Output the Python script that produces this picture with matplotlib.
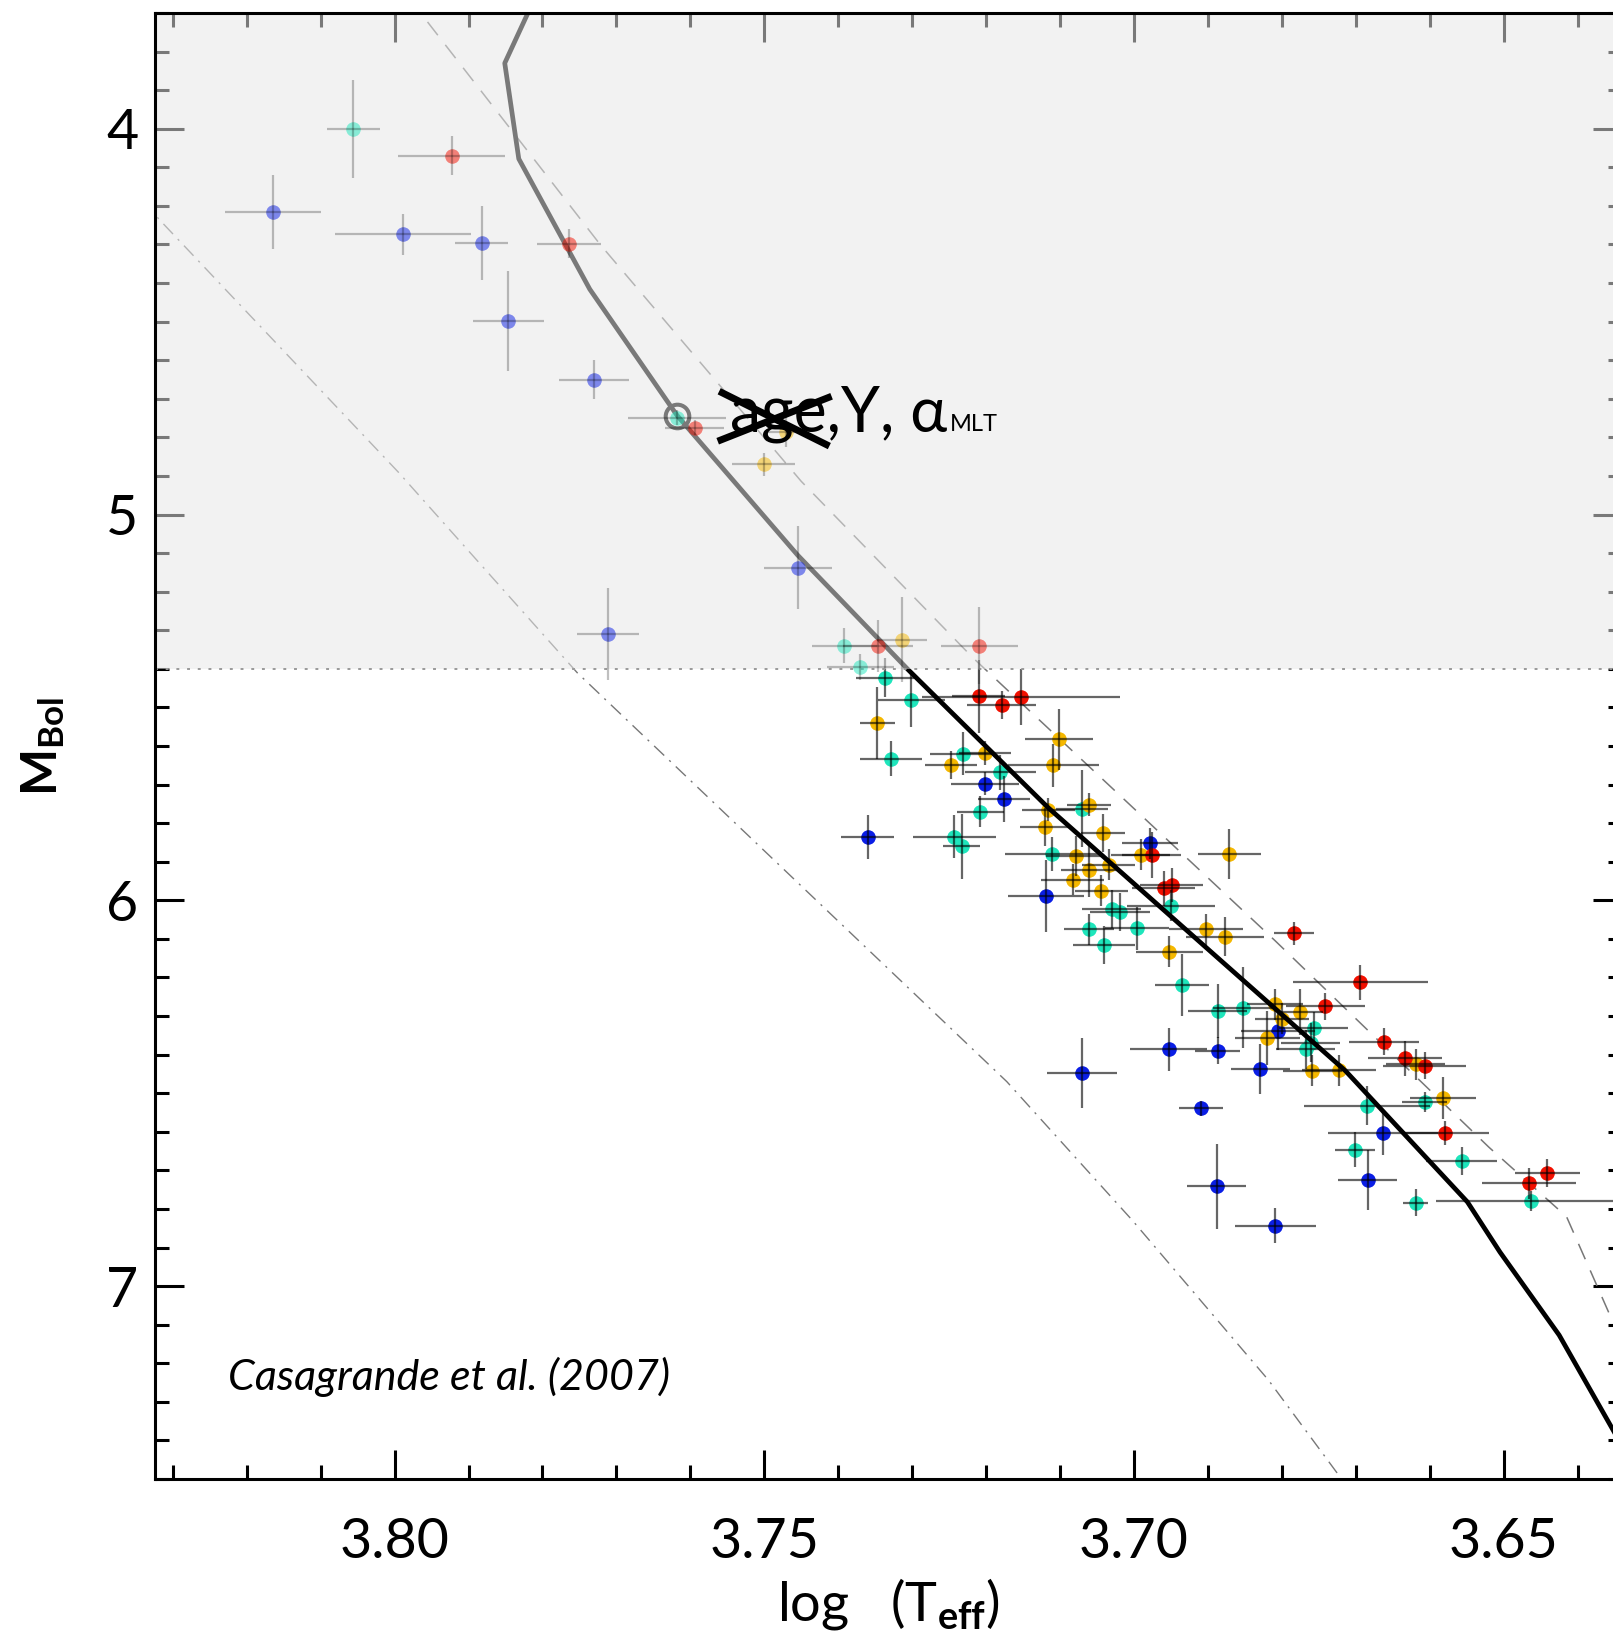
import numpy as np
import matplotlib
matplotlib.use("Agg")
import matplotlib.pyplot as plt
from matplotlib.ticker import MultipleLocator, FormatStrFormatter

plt.rcParams['font.family'] = ['Lato', 'DejaVu Sans']
plt.rcParams['mathtext.fontset'] = 'custom'
plt.rcParams['mathtext.rm'] = 'Lato'
plt.rcParams['mathtext.bf'] = 'Lato:bold'
plt.rcParams['mathtext.it'] = 'Lato:italic'

# Stars: log Teff, M_bol and their errors, grouped by colour
blue_logt = [3.8165, 3.7989, 3.7882, 3.7846, 3.7730, 3.7455, 3.7711,
             3.7202, 3.7176, 3.7360, 3.6978, 3.7119, 3.6953, 3.6887, 3.7070,
             3.6909, 3.6888, 3.6805, 3.6829, 3.6663, 3.6684, 3.6809]
blue_mbol = [4.216, 4.273, 4.296, 4.498, 4.650, 5.138, 5.310,
             5.698, 5.737, 5.836, 5.852, 5.988, 6.386, 6.390, 6.447,
             6.539, 6.741, 6.339, 6.438, 6.603, 6.724, 6.843]
blue_xerr = [0.0065, 0.0092, 0.0036, 0.0048, 0.0047, 0.0046, 0.0042,
             0.0046, 0.0035, 0.0036, 0.0038, 0.0052, 0.0052, 0.0030, 0.0047,
             0.0030, 0.0040, 0.0050, 0.0040, 0.0074, 0.0040, 0.0055]
blue_yerr = [0.097, 0.053, 0.096, 0.130, 0.050, 0.108, 0.120,
             0.030, 0.060, 0.056, 0.040, 0.093, 0.056, 0.035, 0.091,
             0.020, 0.110, 0.050, 0.065, 0.056, 0.078, 0.045]

red_logt = [3.7923, 3.7764, 3.7594, 3.7346, 3.7209,
            3.7210, 3.7179, 3.7153, 3.6976, 3.6960, 3.6949, 3.6784, 3.6694,
            3.6741, 3.6662, 3.6633, 3.6607, 3.6579, 3.6441, 3.6466]
red_mbol = [4.070, 4.298, 4.775, 5.340, 5.340,
            5.471, 5.494, 5.473, 5.882, 5.969, 5.960, 6.085, 6.213,
            6.274, 6.367, 6.410, 6.429, 6.603, 6.707, 6.733]
red_xerr = [0.0073, 0.0043, 0.0040, 0.0047, 0.0052,
            0.0036, 0.0047, 0.0134, 0.0040, 0.0043, 0.0043, 0.0027, 0.0091,
            0.0053, 0.0047, 0.0050, 0.0056, 0.0059, 0.0044, 0.0064]
red_yerr = [0.050, 0.037, 0.020, 0.067, 0.100,
            0.095, 0.036, 0.072, 0.060, 0.045, 0.045, 0.030, 0.045,
            0.035, 0.035, 0.045, 0.035, 0.030, 0.037, 0.040]

cyan_logt = [3.8056, 3.7618, 3.7392, 3.7370,
             3.7337, 3.7301, 3.7329, 3.7231, 3.7181, 3.7208, 3.7243, 3.7233,
             3.7070, 3.7111, 3.6950, 3.7030, 3.7019, 3.7061, 3.7040, 3.6996,
             3.6935, 3.6887, 3.6853, 3.6757, 3.6761, 3.6768, 3.6685, 3.6607,
             3.6701, 3.6557, 3.6619, 3.6463]
cyan_mbol = [4.000, 4.749, 5.340, 5.395,
             5.423, 5.481, 5.633, 5.620, 5.668, 5.770, 5.835, 5.860,
             5.763, 5.880, 6.014, 6.023, 6.030, 6.075, 6.116, 6.073,
             6.219, 6.288, 6.278, 6.330, 6.369, 6.386, 6.532, 6.523,
             6.646, 6.676, 6.784, 6.780]
cyan_xerr = [0.0036, 0.0066, 0.0044, 0.0045,
             0.0039, 0.0045, 0.0042, 0.0045, 0.0048, 0.0032, 0.0056, 0.0025,
             0.0035, 0.0064, 0.0060, 0.0040, 0.0040, 0.0034, 0.0042, 0.0043,
             0.0037, 0.0040, 0.0040, 0.0047, 0.0040, 0.0040, 0.0085, 0.0030,
             0.0027, 0.0048, 0.0017, 0.0128]
cyan_yerr = [0.127, 0.020, 0.045, 0.033,
             0.050, 0.070, 0.045, 0.056, 0.045, 0.040, 0.056, 0.084,
             0.100, 0.043, 0.040, 0.050, 0.050, 0.040, 0.050, 0.056,
             0.080, 0.070, 0.104, 0.040, 0.050, 0.050, 0.050, 0.025,
             0.045, 0.037, 0.035, 0.026]

yellow_logt = [3.7470, 3.7501, 3.7314,
               3.7347, 3.7102, 3.7109, 3.7201, 3.7247, 3.7116, 3.7061, 3.7120,
               3.7042, 3.7079, 3.7061, 3.7034, 3.7083, 3.7044, 3.6991, 3.6871,
               3.6903, 3.6877, 3.6952, 3.6809, 3.6800, 3.6775, 3.6820, 3.6759,
               3.6723, 3.6619, 3.6582]
yellow_mbol = [4.785, 4.870, 5.325,
               5.540, 5.583, 5.650, 5.618, 5.649, 5.765, 5.752, 5.810,
               5.825, 5.884, 5.921, 5.908, 5.947, 5.975, 5.882, 5.880,
               6.075, 6.094, 6.133, 6.269, 6.307, 6.289, 6.358, 6.442,
               6.441, 6.425, 6.513]
yellow_xerr = [0.0030, 0.0042, 0.0034,
               0.0024, 0.0046, 0.0062, 0.0035, 0.0035, 0.0036, 0.0030, 0.0034,
               0.0030, 0.0040, 0.0038, 0.0036, 0.0043, 0.0036, 0.0040, 0.0043,
               0.0050, 0.0053, 0.0045, 0.0038, 0.0037, 0.0030, 0.0044, 0.0040,
               0.0050, 0.0040, 0.0045]
yellow_yerr = [0.040, 0.030, 0.110,
               0.093, 0.079, 0.056, 0.030, 0.037, 0.030, 0.030, 0.050,
               0.050, 0.052, 0.070, 0.040, 0.040, 0.040, 0.040, 0.065,
               0.040, 0.050, 0.040, 0.040, 0.040, 0.060, 0.070, 0.040,
               0.040, 0.040, 0.054]

# Isochrone and the two reference sequences
iso_logt = [3.7810, 3.7851, 3.7832, 3.7736, 3.7618, 3.7455, 3.7305, 3.7116,
            3.6895, 3.6714, 3.6549, 3.6505, 3.6425, 3.6310]
iso_mbol = [3.660, 3.830, 4.078, 4.416, 4.743, 5.105, 5.403, 5.760,
            6.135, 6.442, 6.782, 6.912, 7.127, 7.515]
dash_logt = [3.7981, 3.7722, 3.7450, 3.7218, 3.6809, 3.6520, 3.6415, 3.6330]
dash_mbol = [3.660, 4.300, 4.914, 5.371, 6.105, 6.640, 6.820, 7.190]
dd_logt = [3.8340, 3.8311, 3.7995, 3.7753, 3.7172, 3.7002, 3.6818, 3.6700]
dd_mbol = [4.190, 4.250, 4.890, 5.410, 6.470, 6.830, 7.244, 7.550]

cut_mbol = 5.4
fit_point = (3.7618, 4.745)

groups = [
    (blue_logt, blue_mbol, blue_xerr, blue_yerr, '#0a1ee6'),
    (cyan_logt, cyan_mbol, cyan_xerr, cyan_yerr, '#1ee6bc'),
    (yellow_logt, yellow_mbol, yellow_xerr, yellow_yerr, '#f5b800'),
    (red_logt, red_mbol, red_xerr, red_yerr, '#f21000'),
]

fig = plt.figure(figsize=(16.13, 16.42), dpi=100)
ax = fig.add_axes([155 / 1613, 1 - 1479 / 1642, (1622 - 155) / 1613, (1479 - 13) / 1642])
ax.set_xlim(3.8324, 3.634)
ax.set_ylim(7.5, 3.7)

# shaded bright region
ax.axhspan(3.7, cut_mbol, color='#f2f2f2', zorder=0, lw=0)

ax.plot(dd_logt, dd_mbol, color='#777777', lw=1.0, ls=(0, (10, 5, 1.5, 5)), zorder=2)
ax.plot(dash_logt, dash_mbol, color='#777777', lw=1.1, ls=(0, (11, 8)), zorder=2)
ax.plot(iso_logt, iso_mbol, color='k', lw=3.4, zorder=4)
ax.plot(*fit_point, 'o', mfc='none', mec='k', ms=17, mew=2.9, zorder=4.5)

for lt, mb, xe, ye, col in groups:
    lt, mb, xe, ye = map(np.asarray, (lt, mb, xe, ye))
    up = mb < cut_mbol
    lo = ~up
    ax.scatter(lt[lo], mb[lo], s=110, color=col, lw=0, zorder=3)
    ax.errorbar(lt[lo], mb[lo], xerr=xe[lo], yerr=ye[lo], fmt='none',
                ecolor='k', alpha=0.6, elinewidth=1.6, capsize=0, zorder=3.5)
    ax.scatter(lt[up], mb[up], s=110, color=col, lw=0, alpha=0.5, zorder=6)
    ax.errorbar(lt[up], mb[up], xerr=xe[up], yerr=ye[up], fmt='none',
                ecolor='k', alpha=0.25, elinewidth=1.6, capsize=0, zorder=6.5)

# fade everything drawn beneath the bright region, ticks included
ax.axhspan(3.7, cut_mbol, color='#f2f2f2', alpha=0.5, zorder=5, lw=0)
ax.axhline(cut_mbol, color='#9a9a9a', lw=1.4, ls=(0, (1.5, 4)), zorder=5.5)

for sp in ax.spines.values():
    sp.set_linewidth(2.2)
    sp.set_zorder(6)

ax.xaxis.set_major_locator(MultipleLocator(0.05))
ax.xaxis.set_minor_locator(MultipleLocator(0.01))
ax.xaxis.set_major_formatter(FormatStrFormatter('%.2f'))
ax.yaxis.set_major_locator(MultipleLocator(1))
ax.yaxis.set_minor_locator(MultipleLocator(0.1))
ax.tick_params(which='both', direction='in', top=True, right=True, width=2.2,
               labelsize=40)
ax.tick_params(which='major', length=21)
ax.tick_params(which='minor', length=10)
ax.tick_params(axis='x', which='major', pad=27)
ax.tick_params(axis='y', which='major', pad=12)

ax.set_xlabel(r'log   (T$_{\mathbf{eff}}$)', fontsize=39)
ax.xaxis.set_label_coords(0.5, -0.066)
ax.set_ylabel(r'M$_{\mathbf{Bol}}$', fontsize=36, fontweight='bold')
ax.yaxis.set_label_coords(-0.06, 0.5)

# free parameters of the fit, with age struck out
t = ax.text(3.7547, 4.784, 'age,Y, \u03b1', fontsize=45, va='baseline', zorder=7)
ax.annotate('MLT', xy=(1.0, 4.784), xycoords=(t, 'data'), xytext=(2, 0),
            textcoords='offset points', fontsize=17, va='baseline', zorder=7)
ax.plot([3.7561, 3.7412], [4.6805, 4.8226], color='k', lw=5, solid_capstyle='butt', zorder=7)
ax.plot([3.7563, 3.7409], [4.8100, 4.6935], color='k', lw=5, solid_capstyle='butt', zorder=7)

ax.text(0.050, 0.061, 'Casagrande et al. (2007)', transform=ax.transAxes,
        fontsize=31, fontstyle='italic', va='baseline')

fig.savefig('out.png', dpi=100)
